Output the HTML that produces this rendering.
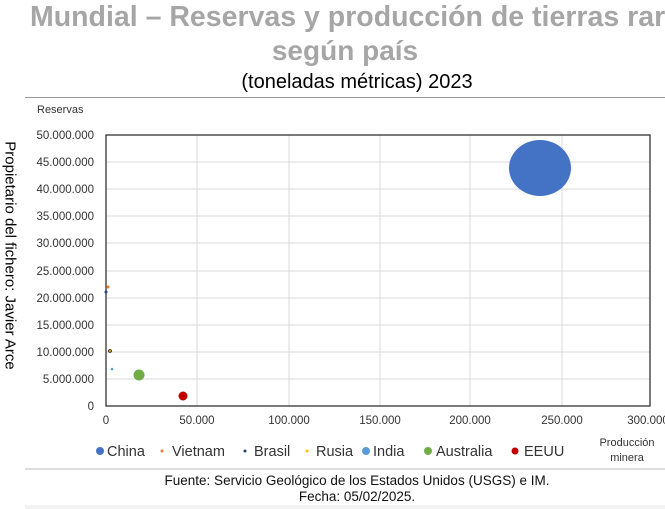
<!DOCTYPE html>
<html><head><meta charset="utf-8"><style>
body{margin:0;width:665px;height:509px;background:#fff;overflow:hidden;position:relative;font-family:"Liberation Sans",sans-serif}
.t{position:absolute;white-space:nowrap}
</style></head><body>
<div class="t" style="left:30px;top:1px;font-size:28.5px;font-weight:bold;color:#a6a6a6">Mundial – Reservas y producción de tierras raras</div>
<div class="t" style="left:0;width:690px;text-align:center;top:35px;font-size:28px;font-weight:bold;color:#a6a6a6">según país</div>
<div class="t" style="left:0;width:714px;text-align:center;top:71px;font-size:20px;color:#000">(toneladas métricas) 2023</div>
<div style="position:absolute;left:25px;top:97px;width:640px;height:1px;background:#999"></div>
<div class="t" style="left:-105px;top:247px;width:230px;text-align:center;transform:rotate(90deg);font-size:15px;color:#000">Propietario del fichero: Javier Arce</div>
<svg width="665" height="509" style="position:absolute;left:0;top:0" font-family="Liberation Sans, sans-serif">
<text x="37" y="113" font-size="11" fill="#333">Reservas</text>
<g stroke="#d9d9d9" stroke-width="1">
<line x1="106" y1="135" x2="650" y2="135"/><line x1="106" y1="162" x2="650" y2="162"/><line x1="106" y1="189" x2="650" y2="189"/><line x1="106" y1="216" x2="650" y2="216"/><line x1="106" y1="243" x2="650" y2="243"/><line x1="106" y1="271" x2="650" y2="271"/><line x1="106" y1="298" x2="650" y2="298"/><line x1="106" y1="325" x2="650" y2="325"/><line x1="106" y1="352" x2="650" y2="352"/><line x1="106" y1="379" x2="650" y2="379"/>
<line x1="197" y1="135" x2="197" y2="406"/><line x1="289" y1="135" x2="289" y2="406"/><line x1="380" y1="135" x2="380" y2="406"/><line x1="470" y1="135" x2="470" y2="406"/><line x1="562" y1="135" x2="562" y2="406"/>
</g>
<rect x="106" y="135" width="544" height="271" fill="none" stroke="#333" stroke-width="1.3"/>
<g font-size="11.5" fill="#333" text-anchor="end">
<text x="94" y="139">50.000.000</text><text x="94" y="166">45.000.000</text><text x="94" y="193">40.000.000</text><text x="94" y="220">35.000.000</text><text x="94" y="247">30.000.000</text><text x="94" y="275">25.000.000</text><text x="94" y="302">20.000.000</text><text x="94" y="329">15.000.000</text><text x="94" y="356">10.000.000</text><text x="94" y="383">5.000.000</text><text x="94" y="410">0</text>
</g>
<g font-size="11.5" fill="#333" text-anchor="middle">
<text x="106" y="424">0</text><text x="197" y="424">50.000</text><text x="289" y="424">100.000</text><text x="380" y="424">150.000</text><text x="470" y="424">200.000</text><text x="562" y="424">250.000</text><text x="648" y="424">300.000</text>
</g>
<ellipse cx="540" cy="168" rx="31" ry="28" fill="#4472c4"/>
<circle cx="108" cy="287" r="1.5" fill="#ed7d31"/>
<circle cx="106" cy="292" r="1.5" fill="#264478"/>
<circle cx="110" cy="351" r="1.8" fill="#000"/><circle cx="110" cy="351" r="1" fill="#ffc000"/>
<circle cx="112" cy="369" r="1.3" fill="#5b9bd5"/>
<circle cx="139" cy="375" r="5.5" fill="#70ad47"/>
<circle cx="183" cy="396" r="4.5" fill="#c00000"/>
<g font-size="14.5" fill="#333">
<circle cx="100" cy="451" r="4" fill="#4472c4"/><text x="107" y="456">China</text>
<circle cx="162" cy="451" r="1.5" fill="#ed7d31"/><text x="172" y="456">Vietnam</text>
<circle cx="245" cy="451" r="1.5" fill="#264478"/><text x="254" y="456">Brasil</text>
<circle cx="307" cy="451" r="1.5" fill="#ffc000"/><text x="316" y="456">Rusia</text>
<circle cx="366" cy="451" r="4" fill="#5b9bd5"/><text x="373" y="456">India</text>
<circle cx="428" cy="451" r="4" fill="#70ad47"/><text x="436" y="456">Australia</text>
<circle cx="515" cy="451" r="3.5" fill="#c00000"/><text x="524" y="456">EEUU</text>
</g>
<text x="627" y="446" font-size="11" fill="#333" text-anchor="middle">Producción</text>
<text x="627" y="461" font-size="11" fill="#333" text-anchor="middle">minera</text>
<line x1="25" y1="469" x2="665" y2="469" stroke="#bbb"/>
<text x="357" y="485" font-size="13.5" fill="#111" text-anchor="middle">Fuente: Servicio Geológico de los Estados Unidos (USGS) e IM.</text>
<text x="357" y="501" font-size="13.5" fill="#111" text-anchor="middle">Fecha: 05/02/2025.</text>
<rect x="25" y="505" width="640" height="4" fill="#f2f2f2"/>
</svg>
</body></html>
